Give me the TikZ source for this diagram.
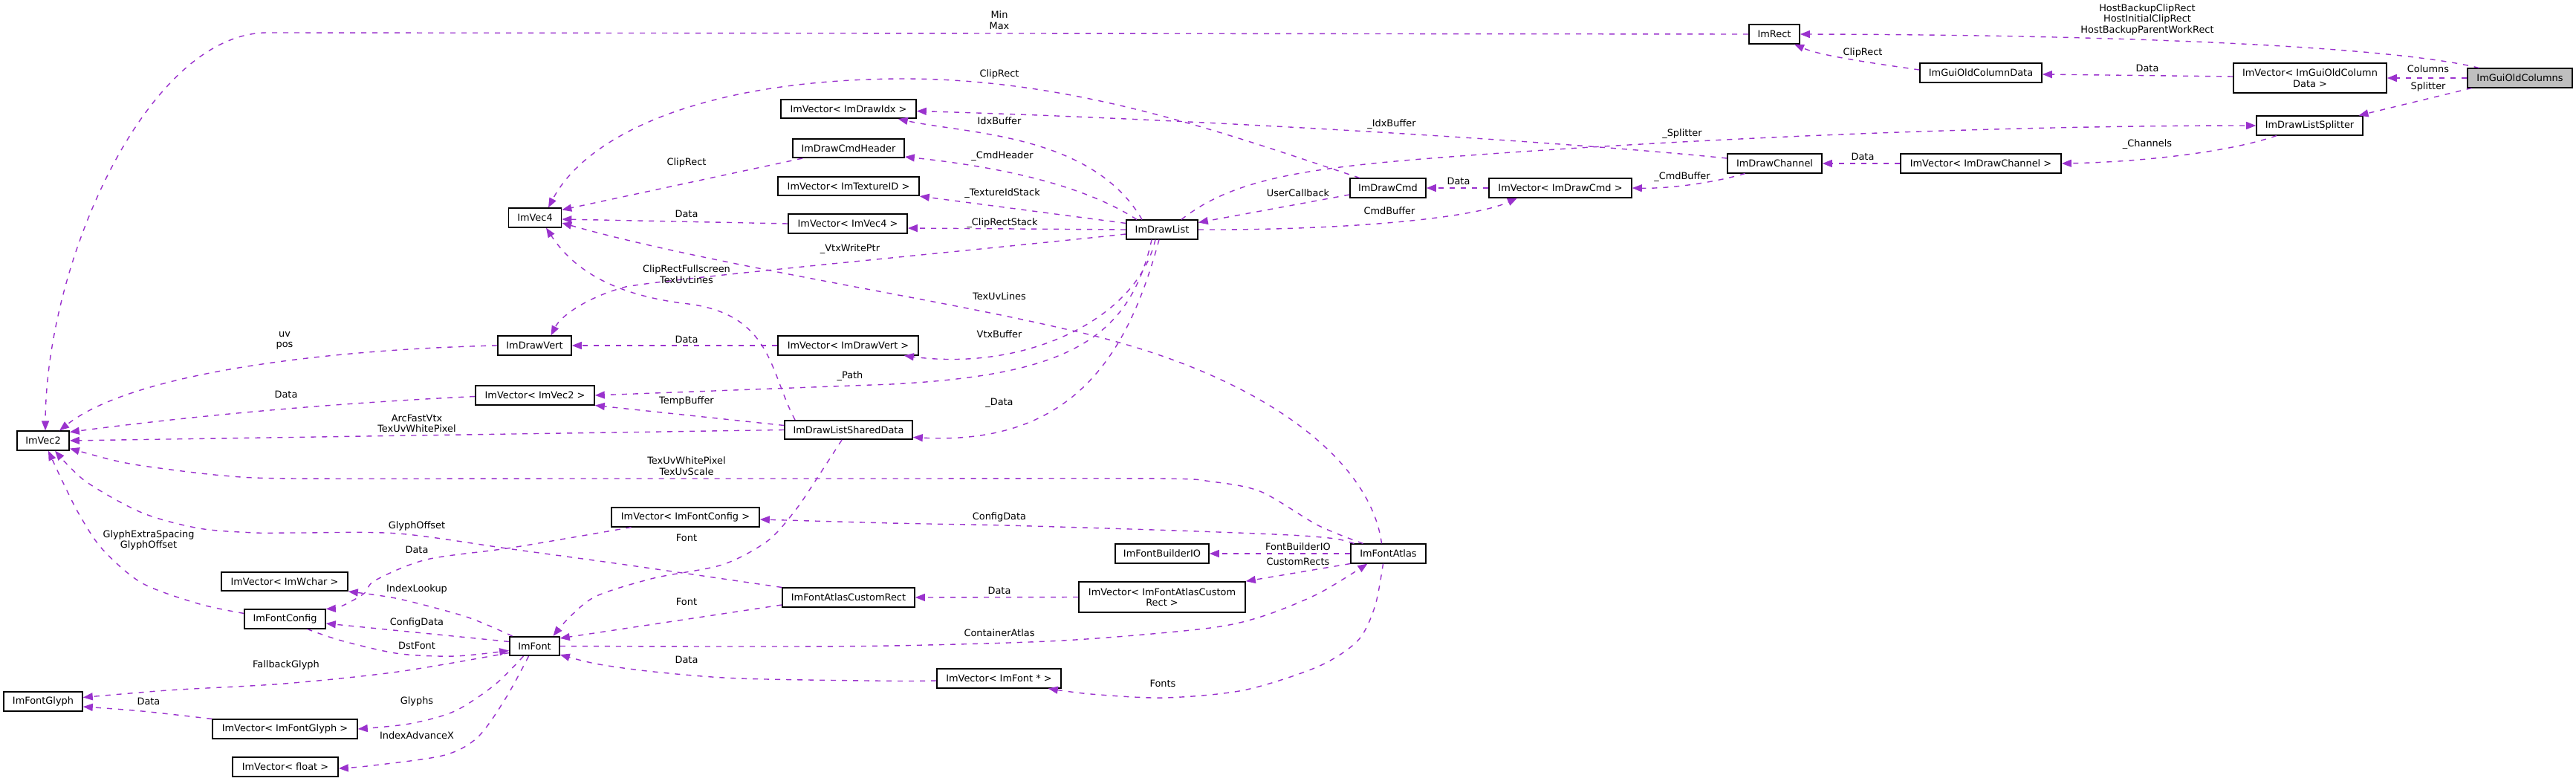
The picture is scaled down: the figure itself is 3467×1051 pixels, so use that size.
\documentclass[tikz,border=0pt]{standalone}
\usepackage{fontspec}
\setmainfont{DejaVu Sans}
\usetikzlibrary{arrows.meta}
\definecolor{edgecol}{HTML}{9A32CD}
\definecolor{hdrfill}{HTML}{BFBFBF}
\begin{document}
\begin{tikzpicture}[x=1pt,y=-1pt,
  font=\fontsize{12.9}{14.5}\selectfont,
  box/.style={draw=black, line width=1.6pt, fill=white, inner sep=0pt, minimum height=25.5pt, align=center},
  edge/.style={draw=edgecol, line width=1.4pt, dash pattern=on 7pt off 8pt, -{Triangle[length=13pt,width=10pt,fill=edgecol]}},
  lbl/.style={inner sep=0pt, align=center, text=black}]
\useasboundingbox (0,0) rectangle (3467,1051);

% ---------- nodes ----------
\node[box, fill=hdrfill, minimum width=141pt] (cols) at (3391.5,105) {ImGuiOldColumns};
\node[box, minimum width=68pt] (rect) at (2388,46) {ImRect};
\node[box, minimum width=164pt] (colData) at (2666,98) {ImGuiOldColumnData};
\node[box, minimum width=206pt, minimum height=40pt] (vcolData) at (3109,105) {ImVector< ImGuiOldColumn\\Data >};
\node[box, minimum width=143pt] (splitter) at (3108.5,169) {ImDrawListSplitter};
\node[box, minimum width=182pt] (vidx) at (1142,146.5) {ImVector< ImDrawIdx >};
\node[box, minimum width=150pt] (cmdhdr) at (1142,199.5) {ImDrawCmdHeader};
\node[box, minimum width=190pt] (vtex) at (1142,250.5) {ImVector< ImTextureID >};
\node[box, minimum width=160pt] (vvec4) at (1141,301) {ImVector< ImVec4 >};
\node[box, minimum width=71pt] (vec4) at (720,293) {ImVec4};
\node[box, minimum width=96pt] (drawlist) at (1564,309) {ImDrawList};
\node[box, minimum width=102pt] (drawcmd) at (1868,253) {ImDrawCmd};
\node[box, minimum width=192pt] (vcmd) at (2100,253) {ImVector< ImDrawCmd >};
\node[box, minimum width=127pt] (channel) at (2388.5,220) {ImDrawChannel};
\node[box, minimum width=216pt] (vchannel) at (2666,220) {ImVector< ImDrawChannel >};
\node[box, minimum width=99pt] (vert) at (719.5,465) {ImDrawVert};
\node[box, minimum width=189pt] (vvert) at (1141.5,465) {ImVector< ImDrawVert >};
\node[box, minimum width=160pt] (vvec2) at (720,532) {ImVector< ImVec2 >};
\node[box, minimum width=70pt] (vec2) at (58,593) {ImVec2};
\node[box, minimum width=172pt] (shared) at (1142,578.5) {ImDrawListSharedData};
\node[box, minimum width=199pt] (vfontcfg) at (922.5,696) {ImVector< ImFontConfig >};
\node[box, minimum width=126pt] (builderio) at (1564,745) {ImFontBuilderIO};
\node[box, minimum width=101pt] (atlas) at (1868.5,745) {ImFontAtlas};
\node[box, minimum width=170pt] (vwchar) at (383,782.5) {ImVector< ImWchar >};
\node[box, minimum width=178pt] (customrect) at (1142,804) {ImFontAtlasCustomRect};
\node[box, minimum width=224pt, minimum height=41pt] (vcustom) at (1564,803.5) {ImVector< ImFontAtlasCustom\\Rect >};
\node[box, minimum width=109pt] (fontcfg) at (383.5,833) {ImFontConfig};
\node[box, minimum width=67pt] (font) at (719.5,869.5) {ImFont};
\node[box, minimum width=106pt] (glyph) at (58,944) {ImFontGlyph};
\node[box, minimum width=195pt] (vglyph) at (383.5,981) {ImVector< ImFontGlyph >};
\node[box, minimum width=167pt] (vfont) at (1344.5,913) {ImVector< ImFont * >};
\node[box, minimum width=142pt] (vfloat) at (384,1032) {ImVector< float >};

% ---------- edges ----------
\draw[edge] ([xshift=-55pt]cols.north) .. controls (3230,65) and (2900,47) .. (rect.east);
\draw[edge] (cols.west) -- (vcolData.east);
\draw[edge] ([xshift=-65pt]cols.south) -- ([xshift=66pt]splitter.north);
\draw[edge] ([yshift=2pt]vcolData.west) -- ([yshift=-2pt]colData.east);
\draw[edge] ([yshift=4pt]colData.west) .. controls (2520,85) and (2450,75) .. ([xshift=27pt]rect.south);
\draw[edge] (rect.west) -- (360,44) .. controls (200,44) and (62,350) .. ([xshift=3pt]vec2.north);
\draw[edge] ([xshift=-44.5pt]splitter.south) .. controls (3000,205) and (2880,218) .. (vchannel.east);
\draw[edge] (vchannel.west) -- (channel.east);
\draw[edge] ([yshift=7pt]channel.west) .. controls (2100,190) and (1600,160) .. ([yshift=-3pt]vidx.east);
\draw[edge] ([xshift=-40pt]channel.south) .. controls (2310,245) and (2250,254) .. (vcmd.east);
\draw[edge] (vcmd.west) -- (drawcmd.east);
\draw[edge] ([xshift=-38pt]drawcmd.north) .. controls (1650,180) and (1450,107) .. (1220,106) .. controls (950,106) and (790,180) .. ([xshift=18pt]vec4.north);
\draw[edge] ([yshift=-9pt]drawcmd.west) -- ([yshift=-4pt]drawlist.north east);
\draw[edge] (drawlist.east) .. controls (1800,310) and (1980,295) .. ([xshift=-58pt]vcmd.south);
\draw[edge] ([xshift=26pt]drawlist.north) .. controls (1660,240) and (1760,225) .. (1965,210) .. controls (2300,185) and (2700,169) .. (splitter.west);
\draw[edge] ([xshift=-27pt]drawlist.north) .. controls (1470,180) and (1300,180) .. ([xshift=-25pt]vidx.south east);
\draw[edge] ([xshift=-34pt]drawlist.north) .. controls (1460,250) and (1350,225) .. ([yshift=2pt]cmdhdr.south east);
\draw[edge] ([yshift=-5pt]drawlist.north west) -- (vtex.south east);
\draw[edge] (drawlist.west) -- ([yshift=-6pt]vvec4.east);
\draw[edge] (vvec4.west) -- ([yshift=-2pt]vec4.east);
\draw[edge] ([xshift=-62pt]cmdhdr.south) -- ([yshift=-3pt]vec4.north east);
\draw[edge] ([yshift=-6pt]drawlist.west) .. controls (1300,338) and (900,375) .. (842,386) .. controls (790,400) and (755,425) .. ([xshift=22pt]vert.north);
\draw[edge] ([xshift=-9pt]drawlist.south) .. controls (1530,430) and (1380,500) .. ([xshift=-20pt]vvert.south east);
\draw[edge] ([xshift=-14pt]drawlist.south) .. controls (1520,460) and (1430,505) .. (1200,517) -- (vvec2.east);
\draw[edge] ([xshift=-4pt]drawlist.south) .. controls (1520,470) and (1450,600) .. ([yshift=-10pt]shared.east);
\draw[edge] (vvert.west) -- (vert.east);
\draw[edge] (vert.west) .. controls (450,470) and (180,500) .. ([xshift=22pt]vec2.north);
\draw[edge] ([yshift=-1.5pt]vvec2.west) .. controls (400,545) and (220,565) .. ([yshift=-2pt]vec2.north east);
\draw[edge] ([yshift=6pt]shared.west) -- (vvec2.south east);
\draw[edge] (shared.west) -- (vec2.east);
\draw[edge] ([xshift=-72pt]shared.north) .. controls (1035,500) and (1040,420) .. (918,408) .. controls (820,395) and (770,360) .. ([xshift=15pt]vec4.south);
\draw[edge] ([xshift=-9pt]atlas.north) .. controls (1845,620) and (1700,500) .. (1430,442) .. controls (1250,400) and (950,355) .. ([yshift=-7pt]vec4.east);
\draw[edge] plot[smooth] coordinates {([xshift=-9pt]shared.south) (1102,640) (1071,686) (1033,728) (972,760) (880,778) (803,802) (767,830) ([xshift=25pt]font.north)};
\draw[edge] plot[smooth] coordinates {([xshift=-34pt]atlas.north) (1774,707) (1697,661.6) (1630,648) (1560,644) (1200,644) (800,644) (400,644) (300,640) (200,628) (153,619.5) ([yshift=3pt]vec2.south east)};
\draw[edge] plot[smooth] coordinates {([xshift=-46pt]atlas.north) (1797,725) (1736,720) (1583,714) (1353,707) (1200,704) ([yshift=-3pt]vfontcfg.east)};
\draw[edge] (atlas.west) -- (builderio.east);
\draw[edge] (atlas.south west) -- (vcustom.north east);
\draw[edge] (vcustom.west) -- (customrect.east);
\draw[edge] plot[smooth] coordinates {(customrect.north west) (842,760) (689,739) (536,718) (400,717) (344,717) (268,711) (191,690) (115,647.6) ([xshift=16pt]vec2.south)};
\draw[edge] ([yshift=-10pt]customrect.west) -- ([yshift=-3pt]font.north east);
\draw[edge] plot[smooth] coordinates {(font.east) (1000,870) (1200,869) (1430,862) (1621,846) (1697,830) (1774,799) ([xshift=-28pt]atlas.south)};
\draw[edge] plot[smooth] coordinates {([xshift=-7pt]atlas.south) (1850.5,816) (1827.5,862) (1774,897) (1674.5,928.7) (1567,939) (1468,934) ([xshift=-18pt]vfont.south east)};
\draw[edge] plot[smooth] coordinates {([yshift=-3pt]vfont.west) (1200,916.4) (995,913) (880,904) (803.5,893.5) ([yshift=2pt]font.south east)};
\draw[edge] plot[smooth] coordinates {([xshift=-73pt]vfontcfg.south) (688.8,737) (574,753) (505,781) (490,798.7) (459,816) (fontcfg.north east)};
\draw[edge] plot[smooth] coordinates {([yshift=-6pt]fontcfg.north west) (268,812.7) (191,784.6) (137.8,739) (107,693) (84,647.6) ([xshift=7pt]vec2.south)};
\draw[edge] plot[smooth] coordinates {([xshift=30pt]fontcfg.south) (459,862) (535.7,879.5) (612,883) ([yshift=-6pt]font.west)};
\draw[edge] ([yshift=6pt]font.west) -- ([yshift=-6pt]fontcfg.east);
\draw[edge] plot[smooth] coordinates {([xshift=-30pt]font.north) (627.5,830) (535.7,805.7) (vwchar.south east)};
\draw[edge] plot[smooth] coordinates {([yshift=-9pt]font.west) (535.7,904) (382.6,920) (229.6,928.7) ([yshift=5.5pt]glyph.east)};
\draw[edge] plot[smooth] coordinates {(vglyph.north west) (191,957) ([yshift=-7pt]glyph.east)};
\draw[edge] plot[smooth] coordinates {([xshift=-15pt]font.south) (665.8,921.6) (612,957) (551,974) (vglyph.east)};
\draw[edge] plot[smooth] coordinates {([xshift=-8pt]font.south) (681,939) (643,992) (597,1016.5) (497.5,1030.6) ([yshift=-2pt]vfloat.east)};

% ---------- labels ----------
\node[lbl] (l1) at (2890,26) {HostBackupClipRect\\HostInitialClipRect\\HostBackupParentWorkRect};
\node[lbl] (l2) at (3268,93) {Columns};
\node[lbl] (l3) at (3268,117) {Splitter};
\node[lbl] (l4) at (2890,92) {Data};
\node[lbl] (l5) at (2507,71) {ClipRect};
\node[lbl] (l6) at (1345,27) {Min\\Max};
\node[lbl] (l7) at (2890,194) {\_Channels};
\node[lbl] (l8) at (2507,211) {Data};
\node[lbl] (l9) at (1873,167) {\_IdxBuffer};
\node[lbl] (l10) at (2264,238) {\_CmdBuffer};
\node[lbl] (l11) at (1963,244) {Data};
\node[lbl] (l12) at (1345,100) {ClipRect};
\node[lbl] (l13) at (1747,260) {UserCallback};
\node[lbl] (l14) at (1870,284) {CmdBuffer};
\node[lbl] (l15) at (2264,180) {\_Splitter};
\node[lbl] (l16) at (1345,163) {IdxBuffer};
\node[lbl] (l17) at (1349,210) {\_CmdHeader};
\node[lbl] (l18) at (1349,260) {\_TextureIdStack};
\node[lbl] (l19) at (1349,300) {\_ClipRectStack};
\node[lbl] (l20) at (924,288) {Data};
\node[lbl] (l21) at (924,219) {ClipRect};
\node[lbl] (l22) at (1144,335) {\_VtxWritePtr};
\node[lbl] (l23) at (1345,450) {VtxBuffer};
\node[lbl] (l24) at (1144,506) {\_Path};
\node[lbl] (l25) at (1345,542) {\_Data};
\node[lbl] (l26) at (924,457) {Data};
\node[lbl] (l27) at (383,458) {uv\\pos};
\node[lbl] (l28) at (385,531) {Data};
\node[lbl] (l29) at (924,540) {TempBuffer};
\node[lbl] (l30) at (561,570) {ArcFastVtx\\TexUvWhitePixel};
\node[lbl] (l31) at (924,369) {ClipRectFullscreen\\TexUvLines};
\node[lbl] (l32) at (1345,399) {TexUvLines};
\node[lbl] (l33) at (924,724) {Font};
\node[lbl] (l34) at (924,627) {TexUvWhitePixel\\TexUvScale};
\node[lbl] (l35) at (1345,696) {ConfigData};
\node[lbl] (l36) at (1747,736) {FontBuilderIO};
\node[lbl] (l37) at (1747,756) {CustomRects};
\node[lbl] (l38) at (1345,795) {Data};
\node[lbl] (l39) at (561,708) {GlyphOffset};
\node[lbl] (l40) at (924,810) {Font};
\node[lbl] (l41) at (1345,852) {ContainerAtlas};
\node[lbl] (l42) at (1565,920) {Fonts};
\node[lbl] (l43) at (924,888) {Data};
\node[lbl] (l44) at (561,740) {Data};
\node[lbl] (l45) at (200,727) {GlyphExtraSpacing\\GlyphOffset};
\node[lbl] (l46) at (561,869) {DstFont};
\node[lbl] (l47) at (561,838) {ConfigData};
\node[lbl] (l48) at (561,793) {IndexLookup};
\node[lbl] (l49) at (385,895) {FallbackGlyph};
\node[lbl] (l50) at (200,944) {Data};
\node[lbl] (l51) at (561,944) {Glyphs};
\node[lbl] (l52) at (561,990) {IndexAdvanceX};
\end{tikzpicture}
\end{document}
